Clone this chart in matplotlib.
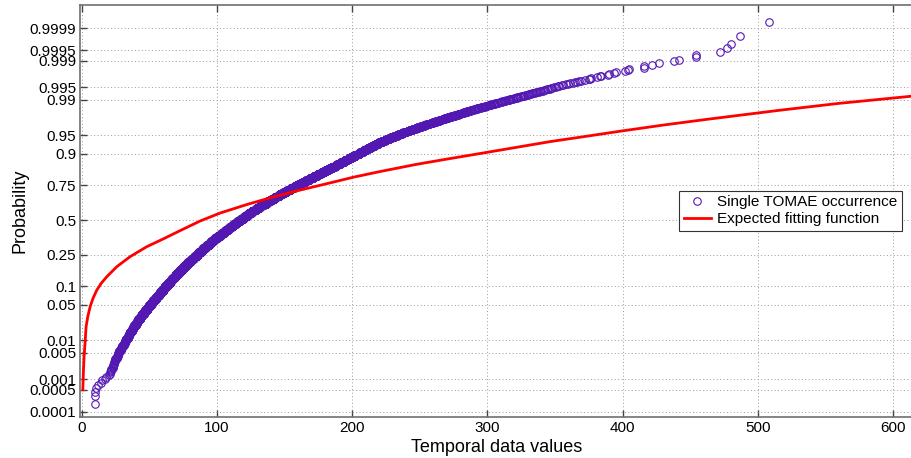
import numpy as np
import matplotlib
matplotlib.use('Agg')
import matplotlib.pyplot as plt
import matplotlib.ticker as mtick
from statistics import NormalDist

plt.rcParams["font.family"] = ["Liberation Sans", "DejaVu Sans"]

# Observed durations are integers: value -> number of occurrences (10 .. 375)
tomae_values = np.arange(10, 376)
tomae_counts = [
    4,
    1, 1, 0, 1, 1, 0, 1, 1, 0, 1,
    2, 3, 4, 4, 5, 5, 6, 6, 7, 7,
    8, 9, 10, 11, 12, 13, 14, 14, 15, 16,
    17, 18, 19, 20, 21, 22, 23, 24, 24, 25,
    26, 28, 29, 30, 32, 33, 35, 36, 37, 39,
    40, 42, 43, 44, 46, 46, 47, 48, 49, 50,
    51, 52, 52, 53, 54, 55, 56, 56, 57, 58,
    58, 59, 60, 60, 61, 61, 62, 62, 62, 63,
    63, 63, 64, 64, 64, 64, 64, 64, 64, 64,
    64, 64, 64, 63, 63, 63, 63, 63, 62, 62,
    62, 61, 61, 61, 60, 60, 59, 59, 59, 58,
    57, 56, 56, 56, 55, 54, 53, 53, 53, 52,
    51, 50, 50, 50, 49, 48, 47, 47, 47, 47,
    45, 44, 44, 44, 43, 42, 41, 41, 41, 41,
    39, 39, 38, 38, 38, 37, 36, 36, 36, 35,
    34, 34, 34, 33, 33, 32, 32, 31, 31, 31,
    31, 30, 30, 30, 29, 29, 28, 28, 28, 27,
    27, 27, 26, 26, 26, 25, 25, 25, 25, 24,
    24, 23, 23, 23, 23, 22, 22, 22, 21, 21,
    21, 20, 20, 20, 19, 19, 19, 18, 18, 18,
    17, 17, 16, 16, 16, 15, 15, 15, 15, 14,
    12, 12, 11, 11, 10, 10, 10, 9, 9, 9,
    9, 9, 9, 9, 8, 8, 8, 8, 7, 7,
    7, 7, 7, 6, 6, 6, 6, 6, 6, 5,
    6, 6, 5, 5, 5, 5, 5, 5, 5, 4,
    5, 5, 4, 4, 4, 4, 4, 4, 4, 4,
    4, 4, 4, 3, 3, 4, 3, 3, 3, 3,
    3, 3, 3, 3, 3, 3, 3, 3, 2, 2,
    3, 3, 2, 2, 2, 2, 2, 2, 2, 2,
    2, 2, 2, 2, 1, 2, 2, 2, 2, 1,
    2, 2, 2, 1, 1, 2, 2, 1, 1, 1,
    2, 2, 1, 1, 1, 2, 1, 1, 1, 1,
    2, 1, 1, 1, 1, 1, 1, 1, 1, 1,
    1, 1, 1, 1, 1, 1, 1, 1, 1, 0,
    1, 1, 1, 0, 1, 1, 0, 1, 0, 1,
    1, 0, 1, 0, 1, 1, 0, 1, 1, 0,
    0, 1, 0, 0, 1,
]
# Sparse upper tail, one occurrence each
tomae_tail = [376, 377, 381, 383, 384, 389, 390, 394, 395, 402, 404, 405,
              416, 416, 422, 427, 438, 442, 454, 454, 472, 477, 480, 487, 508]

# Expected fitting function (value, cumulative probability)
fit_values = [0.9, 1.3, 1.8, 2.6, 3.3, 4.5, 6.3, 8.5, 11.2, 14.5, 18.6, 26,
              35.9, 48.2, 60.5, 72.9, 87.6, 102.4, 122.2, 139.4, 159.2, 183.8,
              201, 220.8, 247.9, 270, 297.2, 346.5, 370, 398, 430, 462, 517,
              560, 614]
fit_prob = [0.0005, 0.0015, 0.004, 0.009, 0.0192, 0.03, 0.0465, 0.065, 0.0869,
            0.11, 0.1357, 0.1827, 0.2389, 0.3026, 0.3576, 0.4188, 0.492,
            0.5537, 0.6179, 0.6664, 0.714, 0.7642, 0.7967, 0.8264, 0.86,
            0.881, 0.9032, 0.9357, 0.9463, 0.9573, 0.9671, 0.9744, 0.9834,
            0.9881, 0.9918]

prob_ticks = [0.0001, 0.0005, 0.001, 0.005, 0.01, 0.05, 0.1, 0.25, 0.5,
              0.75, 0.9, 0.95, 0.99, 0.995, 0.999, 0.9995, 0.9999]
prob_labels = ["0.0001", "0.0005", "0.001", "0.005", "0.01", "0.05", "0.1",
               "0.25", "0.5", "0.75", "0.9", "0.95", "0.99", "0.995", "0.999",
               "0.9995", "0.9999"]

_nd = NormalDist()


def prob_to_z(p):
    p = np.clip(np.asarray(p, dtype=float), 1e-12, 1 - 1e-12)
    return np.vectorize(_nd.inv_cdf, otypes=[float])(p)


def z_to_prob(z):
    return np.vectorize(_nd.cdf, otypes=[float])(np.asarray(z, dtype=float))


# Sorted sample and plotting positions (i - 0.5) / n
sample = np.concatenate([np.repeat(tomae_values, tomae_counts), tomae_tail])
n = len(sample)
positions = (np.arange(1, n + 1) - 0.5) / n

p_low, p_high = z_to_prob(-3.818), z_to_prob(4.167)
# points whose centre falls outside the probability range are not drawn
inside = (positions >= p_low) & (positions <= p_high)

fig = plt.figure(figsize=(9.12, 4.58), dpi=100)
ax = fig.add_axes([0.088, 0.0895, 0.912, 0.8996])
ax.set_yscale("function", functions=(prob_to_z, z_to_prob))

ax.plot(sample[inside], positions[inside], linestyle="none", marker="o",
        markersize=5.4, markerfacecolor="none", markeredgecolor="#5418b2",
        markeredgewidth=0.8, label="Single TOMAE occurrence", zorder=3)
ax.plot(fit_values, fit_prob, color="#ff0000", linewidth=2.0,
        label="Expected fitting function", zorder=4)

ax.set_xlim(-1, 614)
ax.set_ylim(p_low, p_high)
ax.set_xticks([0, 100, 200, 300, 400, 500, 600])
ax.yaxis.set_major_locator(mtick.FixedLocator(prob_ticks))
ax.yaxis.set_major_formatter(mtick.FixedFormatter(prob_labels))
ax.yaxis.set_minor_locator(mtick.NullLocator())
ax.xaxis.set_minor_locator(mtick.NullLocator())

ax.grid(True, linestyle=(0, (1, 2.5)), linewidth=0.7, color="#9a9a9a")
ax.tick_params(direction="in", length=5, width=1, color="#444444",
               labelsize=11, top=True, right=False, pad=3)
for side in ["left", "bottom", "top"]:
    ax.spines[side].set_color("#707070")
    ax.spines[side].set_linewidth(1.2)
ax.spines["right"].set_visible(False)

ax.set_xlabel("Temporal data values", fontsize=13, labelpad=3)
ax.set_ylabel("Probability", fontsize=13, labelpad=1)

leg = ax.legend(loc="upper right", bbox_to_anchor=(0.988, 0.549), fontsize=11,
                fancybox=False, edgecolor="#333333", framealpha=1,
                handlelength=1.8, borderpad=0.3, labelspacing=0.2,
                handletextpad=0.4, borderaxespad=0)
leg.get_frame().set_linewidth(0.8)

plt.savefig("out.png", dpi=100)
plt.close()
